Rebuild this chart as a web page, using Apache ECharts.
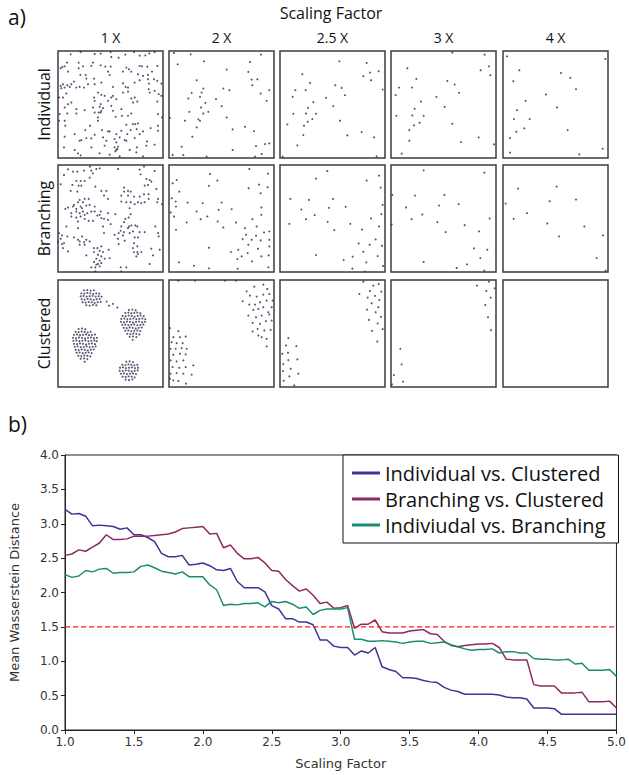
<!DOCTYPE html>
<html><head><meta charset="utf-8">
<script src="https://cdn.jsdelivr.net/npm/echarts@6/dist/echarts.min.js"></script>
<style>html,body{margin:0;padding:0;background:#fff}#c{width:629px;height:775px}</style>
</head><body><div id="c"></div>
<script>
// ---------- Panel a) labels ----------
const columnLabels = ['1 X', '2 X', '2.5 X', '3 X', '4 X'];
const rowLabels = ['Individual', 'Branching', 'Clustered'];

// ---------- Panel a) cell positions (image coords, y downward) ----------
const indiv1 = [[38,10],[68,3],[110,9],[128,8],[158,3],[160,18],[182,20],[202,11],[228,3],[245,14],[262,13],[274,7],[290,3],
[27,35],[13,48],[20,46],[8,52],[30,62],[62,35],[75,46],[62,52],[100,45],[105,35],[128,43],[142,47],[158,47],[150,62],[205,50],[213,55],[245,45],[252,46],[268,47],[298,45],[220,62],[195,62],[240,70],[255,75],[270,72],[282,62],
[67,72],[85,83],[83,72],[108,83],[130,95],[155,72],[48,92],[40,100],[28,103],[15,100],[8,105],[20,110],[10,112],[35,108],[55,110],[65,108],[78,110],[90,100],[110,100],[165,108],[195,97],[203,108],[210,110],[230,95],[245,88],[270,85],[273,98],[288,85],[298,90],[310,98],
[25,128],[15,140],[3,140],[120,125],[108,140],[130,132],[140,135],[160,140],[165,135],[175,145],[195,125],[210,122],[230,140],[220,143],[272,115],[275,125],[290,120],[302,130],[310,135],[298,152],[238,152],[225,155],[40,155],[30,160],[110,150],[128,160],[150,150],
[20,170],[55,175],[80,178],[105,170],[125,168],[135,172],[130,180],[128,185],[160,165],[165,180],[190,175],[110,185],[122,185],[28,188],[55,188],[5,190],[120,200],[192,195],[210,195],[220,188],[300,190],[312,200],
[20,210],[3,210],[120,210],[173,198],[205,222],[225,220],[232,220],[240,218],[278,232],[300,225],[22,225],[96,225],[82,238],[132,238],[150,242],[155,242],[190,240],[175,250],[218,238],[236,235],[208,250],[245,250],[255,242],[300,240],[50,250],[110,252],[20,258],[85,262],[100,263],[170,265],[185,260],[200,268],
[65,270],[70,268],[135,260],[145,270],[175,275],[230,262],[205,270],[267,272],[290,282],[265,285],[18,290],[50,298],[100,290],[140,285],[170,290],[178,295],[175,298],[172,302],[180,288],[215,298],[237,290],[235,305],[60,308],[68,314],[125,308],[155,312],[185,317],[255,317]];
const indiv2 = [[15,6],[65,10],[105,31],[26,40],[173,56],[243,33],[276,11],[238,63],[248,86],[265,85],[83,88],[250,103],[103,113],[163,113],[68,126],[181,118],[58,143],[98,125],[93,138],[141,145],[301,118],[275,128],[293,150],[109,156],[158,166],[96,170],[118,183],[61,183],[103,188],[88,206],[173,200],[93,210],[48,210],[3,201],[83,230],[228,228],[191,236],[255,241],[70,258],[38,288],[261,286],[191,298],[288,280],[301,278],[11,313],[43,313],[113,318],[278,310],[258,318]];
const indiv25 = [[178,31],[260,36],[67,70],[250,76],[270,65],[296,61],[273,88],[90,96],[166,103],[185,111],[46,118],[77,118],[308,116],[195,133],[38,138],[138,141],[100,154],[84,171],[160,166],[40,189],[78,188],[108,189],[97,205],[83,213],[22,221],[72,225],[180,210],[70,253],[245,244],[202,254],[282,260],[52,284],[290,317],[8,318]];
const indiv3 = [[184,5],[281,11],[269,58],[294,46],[298,73],[49,52],[76,84],[169,90],[191,101],[24,110],[63,110],[204,126],[14,133],[136,138],[90,152],[71,174],[161,168],[16,195],[64,194],[98,195],[86,216],[69,224],[184,219],[55,238],[55,270],[210,274],[263,260],[309,281],[32,309]];
const indiv4 = [[12,16],[307,24],[49,58],[31,91],[174,66],[202,81],[219,115],[129,131],[68,150],[42,178],[162,170],[33,205],[80,205],[40,243],[64,233],[21,262],[194,238],[21,306],[229,311],[299,294]];

const branch1 = [[30,13],[45,20],[58,20],[18,30],[78,17],[96,5],[115,12],[125,10],[100,17],[95,38],[105,25],[180,12],[245,14],[258,5],[290,18],[248,28],
[55,48],[68,48],[80,48],[62,62],[70,62],[43,60],[8,58],[38,78],[58,80],[112,65],[130,78],[145,78],[198,68],[210,78],[218,80],[198,80],[265,42],[275,45],[270,60],[295,72],[280,50],[260,62],
[138,92],[150,102],[190,92],[210,92],[228,95],[245,95],[258,88],[272,88],[272,102],[300,102],[298,112],[312,118],[260,112],[250,115],[240,112],[230,118],[218,112],[205,112],[190,110],[65,105],[80,102],[92,102],[75,112],[60,112],[48,120],[45,125],[30,128],[22,132],[55,132],[68,125],[72,130],[85,122],[95,120],[110,125],
[40,145],[55,140],[65,145],[75,140],[80,150],[88,145],[100,140],[110,140],[128,140],[125,150],[150,145],[172,148],[215,130],[218,148],[202,162],[212,158],[40,155],[55,158],[68,155],[80,162],[92,168],[105,168],[118,152],[130,160],[138,162],[60,170],[150,165],[158,178],[198,172],[190,185],[213,185],[220,182],[232,182],[238,185],[210,190],
[25,185],[60,190],[135,185],[292,185],[3,205],[12,212],[8,222],[28,215],[48,218],[72,215],[60,225],[65,230],[78,232],[85,225],[95,230],[138,205],[170,210],[182,205],[188,198],[198,202],[195,212],[215,205],[225,200],[230,218],[245,202],[260,202],[240,218],[300,205],[302,215],[180,222],[200,228],[228,235],[18,235],[12,238],[0,232],[65,240],[80,240],[182,238],
[108,250],[118,250],[130,245],[108,262],[125,258],[152,255],[15,250],[30,260],[85,272],[120,270],[130,275],[135,262],[225,250],[238,245],[228,262],[238,262],[250,262],[280,252],[305,255],[285,272],[235,275],[240,268],[115,282],[140,282],[155,280],[125,288],[130,295],[108,292],[120,298],[115,300],[275,298],[100,308],[112,308],[125,305],[188,308],[205,308],[112,320],[190,320]];
const branch2 = [[23,45],[11,55],[31,80],[8,100],[123,27],[120,63],[145,47],[241,12],[297,26],[270,59],[239,70],[275,85],[296,67],[20,110],[21,125],[5,143],[15,155],[56,113],[101,115],[158,113],[188,133],[83,140],[149,135],[95,163],[115,155],[146,170],[21,195],[53,173],[163,188],[201,173],[228,190],[250,163],[277,150],[277,128],[263,185],[285,203],[301,200],[231,210],[221,223],[261,213],[248,225],[275,227],[301,225],[238,240],[208,255],[186,262],[267,252],[236,265],[301,245],[218,275],[205,283],[249,290],[277,275],[299,272],[120,249],[30,293],[75,303],[120,311],[206,312],[298,308]];
const branch25 = [[142,18],[108,41],[260,47],[297,32],[302,68],[31,102],[87,105],[159,102],[64,134],[147,129],[197,126],[104,151],[78,163],[308,120],[304,148],[273,161],[28,177],[143,171],[211,177],[297,185],[163,196],[246,194],[287,224],[236,236],[269,240],[306,243],[250,261],[293,274],[108,271],[191,286],[218,276],[259,293],[217,312],[255,321],[309,304]];
const branch3 = [[98,16],[280,23],[4,90],[72,92],[160,90],[45,128],[144,122],[203,118],[94,149],[62,163],[139,172],[296,161],[2,179],[164,202],[221,181],[264,200],[249,251],[289,255],[268,280],[98,292],[197,310],[228,299],[280,318]];
const branch4 = [[45,71],[161,65],[8,116],[140,109],[219,104],[72,145],[32,162],[133,176],[168,215],[244,185],[300,212],[281,280],[308,318]];

const clust1 = [
// upper-left cluster and tail
[78,31],[88,30],[98,32],[108,31],
[70,40],[79,41],[88,39],[97,40],[106,42],[115,40],[124,41],
[68,49],[77,48],[86,50],[95,49],[104,48],[113,50],[122,49],[131,50],
[71,58],[80,59],[89,57],[98,58],[107,60],[116,58],[125,57],
[74,67],[83,68],[92,66],[101,67],[110,69],[119,67],[128,66],
[85,76],[95,77],[105,75],[115,76],
[146,65],[153,77],[165,72],[178,83],
// right cluster
[213,90],[223,89],[233,91],
[202,99],[211,98],[220,100],[229,99],[238,98],[247,100],
[194,108],[203,109],[212,107],[221,108],[230,110],[239,108],[248,107],[257,109],
[190,117],[199,116],[208,118],[217,117],[226,116],[235,118],[244,117],[253,116],[262,118],
[189,126],[198,127],[207,125],[216,126],[225,128],[234,126],[243,125],[252,127],[261,126],
[193,135],[202,134],[211,136],[220,135],[229,134],[238,136],[247,135],[256,134],
[197,144],[206,145],[215,143],[224,144],[233,146],[242,144],[251,143],
[202,153],[211,152],[220,154],[229,153],[238,152],[247,154],
[208,162],[217,163],[226,161],[235,162],[244,164],
[215,171],[225,170],[235,172],[224,180],
// left cluster
[62,147],[72,146],[82,148],
[53,156],[62,157],[71,155],[80,156],[89,158],[98,156],
[48,165],[57,164],[66,166],[75,165],[84,164],[93,166],[102,165],[111,164],
[45,174],[54,175],[63,173],[72,174],[81,176],[90,174],[99,173],[108,175],[117,174],
[46,183],[55,182],[64,184],[73,183],[82,182],[91,184],[100,183],[109,182],[116,184],
[48,192],[57,193],[66,191],[75,192],[84,194],[93,192],[102,191],[111,193],
[50,201],[59,200],[68,202],[77,201],[86,200],[95,202],[104,201],[113,200],
[53,210],[62,211],[71,209],[80,210],[89,212],[98,210],[107,209],
[56,219],[65,218],[74,220],[83,219],[92,218],[101,220],
[61,228],[70,229],[79,227],[88,228],[97,230],
[68,237],[78,236],[88,238],[80,246],
// bottom cluster
[205,246],[215,245],[225,247],
[193,255],[202,256],[211,254],[220,255],[229,257],[238,255],
[186,264],[195,263],[204,265],[213,264],[222,263],[231,265],[240,264],
[185,273],[194,274],[203,272],[212,273],[221,275],[230,273],[239,272],
[189,282],[198,281],[207,283],[216,282],[225,281],[234,283],
[194,291],[203,292],[212,290],[221,291],[230,293],
[203,300],[213,301],[223,299]];
const clust2 = [[28,2],[78,2],[168,2],[201,2],
[233,34],[256,20],[283,14],[295,27],[243,47],[263,50],[283,44],[301,42],[221,64],[241,74],[258,74],[273,67],[293,62],[308,82],[253,90],[268,87],[283,82],[298,97],[238,107],[261,112],[278,107],[301,104],[251,129],[273,132],[291,124],[305,150],[266,147],[286,152],[251,155],[268,167],[293,177],[278,172],[293,200],[308,122],[311,62],
[3,145],[28,154],[13,172],[33,172],[50,170],[8,187],[23,190],[41,190],[5,207],[20,207],[38,205],[53,207],[13,225],[33,222],[50,224],[5,242],[23,245],[43,242],[73,257],[11,262],[31,264],[50,262],[5,282],[23,280],[43,282],[68,285],[13,302],[28,304],[3,297],[51,312]];
const clust25 = [[250,5],[280,17],[296,12],[238,42],[263,53],[270,33],[285,48],[304,35],[275,70],[298,60],[261,89],[287,97],[295,82],[303,111],[267,120],[293,131],[276,153],[308,148],[292,185],
[25,175],[18,197],[49,199],[7,222],[24,219],[10,253],[25,241],[52,239],[32,267],[9,274],[55,282],[28,290],[11,303],[43,317],[19,323]];
const clust3 = [[258,17],[294,5],[286,33],[311,25],[299,53],[283,75],[291,112],[300,151],[28,207],[32,254],[9,286],[36,306],[3,314]];
const clust4 = [];

const panelData = [
  [indiv1, indiv2, indiv25, indiv3, indiv4],
  [branch1, branch2, branch25, branch3, branch4],
  [clust1, clust2, clust25, clust3, clust4]
];

// ---------- Panel b) data ----------
const scalingFactor = [1.00,1.05,1.10,1.15,1.20,1.25,1.30,1.35,1.40,1.45,1.50,1.55,1.60,1.65,1.70,1.75,1.80,1.85,1.90,1.95,
2.00,2.05,2.10,2.15,2.20,2.25,2.30,2.35,2.40,2.45,2.50,2.55,2.60,2.65,2.70,2.75,2.80,2.85,2.90,2.95,
3.00,3.05,3.10,3.15,3.20,3.25,3.30,3.35,3.40,3.45,3.50,3.55,3.60,3.65,3.70,3.75,3.80,3.85,3.90,3.95,
4.00,4.05,4.10,4.15,4.20,4.25,4.30,4.35,4.40,4.45,4.50,4.55,4.60,4.65,4.70,4.75,4.80,4.85,4.90,4.95,5.00];
const indivVsClustered = [3.21,3.14,3.15,3.11,2.97,2.98,2.97,2.96,2.92,2.94,2.84,2.84,2.80,2.74,2.57,2.52,2.52,2.54,2.40,2.41,
2.43,2.39,2.33,2.32,2.35,2.16,2.07,2.07,2.07,2.01,1.81,1.76,1.62,1.62,1.57,1.57,1.53,1.31,1.31,1.22,
1.20,1.20,1.09,1.15,1.12,1.20,0.92,0.88,0.85,0.76,0.76,0.75,0.72,0.70,0.69,0.62,0.58,0.56,0.52,0.52,
0.52,0.52,0.52,0.51,0.48,0.47,0.47,0.45,0.32,0.32,0.32,0.31,0.23,0.23,0.23,0.23,0.23,0.23,0.23,0.23,0.23];
const branchVsClustered = [2.54,2.56,2.62,2.60,2.66,2.72,2.84,2.77,2.77,2.78,2.82,2.82,2.82,2.83,2.84,2.85,2.88,2.93,2.94,2.95,
2.96,2.85,2.86,2.65,2.69,2.57,2.49,2.49,2.51,2.43,2.32,2.31,2.19,2.10,2.02,2.05,1.96,1.84,1.86,1.77,
1.78,1.81,1.48,1.54,1.54,1.60,1.43,1.41,1.41,1.41,1.44,1.45,1.46,1.40,1.39,1.29,1.23,1.21,1.23,1.24,
1.25,1.25,1.26,1.20,1.03,1.02,1.02,1.02,0.66,0.64,0.64,0.64,0.54,0.54,0.54,0.55,0.41,0.41,0.41,0.42,0.32];
const indivVsBranch = [2.26,2.22,2.24,2.32,2.30,2.34,2.35,2.28,2.29,2.29,2.30,2.38,2.40,2.36,2.31,2.29,2.27,2.30,2.23,2.23,
2.23,2.11,2.04,1.81,1.83,1.82,1.84,1.84,1.85,1.79,1.87,1.85,1.87,1.83,1.77,1.79,1.68,1.74,1.76,1.76,
1.76,1.78,1.32,1.32,1.29,1.29,1.30,1.29,1.28,1.26,1.28,1.29,1.29,1.26,1.27,1.28,1.24,1.21,1.18,1.16,
1.17,1.17,1.18,1.12,1.14,1.14,1.12,1.12,1.04,1.03,1.03,1.02,1.02,1.03,0.96,0.97,0.87,0.87,0.87,0.88,0.78];
const seriesNames = ['Individual vs. Clustered', 'Branching vs. Clustered', 'Indiviudal vs. Branching'];
const thresholdX = [1.0, 5.0];
const thresholdY = [1.5, 1.5];
const xTicks = [1.0, 5.0, 0.5];   // min, max, step
const yTicks = [0.0, 4.0, 0.5];

// ---------- build ----------
const chart = echarts.init(document.getElementById('c'), null, {renderer: 'svg'});
const colLeft = [58, 169, 280, 391, 503];
const rowTop = [51, 165, 280];
const PW = 105, PH = 107;
const grids = [], xAxes = [], yAxes = [], series = [], graphics = [];
const humanist = '"Open Sans", "Noto Sans", sans-serif';

let gi = 0;
for (let r = 0; r < 3; r++) {
  for (let c = 0; c < 5; c++) {
    grids.push({left: colLeft[c], top: rowTop[r], width: PW, height: PH, show: true,
      borderColor: '#3c3c3c', borderWidth: 1.5, backgroundColor: '#fff', containLabel: false});
    xAxes.push({gridIndex: gi, type: 'value', min: 0, max: 315, show: false});
    yAxes.push({gridIndex: gi, type: 'value', min: 0, max: 322, inverse: true, show: false});
    series.push({type: 'scatter', xAxisIndex: gi, yAxisIndex: gi, data: panelData[r][c],
      symbolSize: 2.1, itemStyle: {color: '#2e2e52'}, silent: true, animation: false});
    gi++;
  }
}
// line chart grid
grids.push({left: 57, top: 455, width: 563, height: 275, show: true, borderColor: '#222', borderWidth: 1, containLabel: false});
const axisLbl = {fontFamily: '"DejaVu Sans", sans-serif', fontSize: 12, color: '#333', margin: 6};
xAxes.push({gridIndex: gi, type: 'value', min: xTicks[0], max: xTicks[1], interval: xTicks[2],
  name: 'Scaling Factor', nameLocation: 'middle', nameGap: 27,
  nameTextStyle: {fontFamily: '"DejaVu Sans", sans-serif', fontSize: 13, color: '#333'},
  axisLine: {show: true, lineStyle: {color: '#222', width: 1}},
  axisTick: {show: true, inside: false, length: 4, lineStyle: {color: '#222'}},
  axisLabel: Object.assign({formatter: v => v.toFixed(1)}, axisLbl), splitLine: {show: false}});
yAxes.push({gridIndex: gi, type: 'value', min: yTicks[0], max: yTicks[1], interval: yTicks[2],
  name: 'Mean Wasserstein Distance', nameLocation: 'middle', nameGap: 44,
  nameTextStyle: {fontFamily: '"DejaVu Sans", sans-serif', fontSize: 13, color: '#333'},
  axisLine: {show: true, lineStyle: {color: '#222', width: 1}},
  axisTick: {show: true, inside: false, length: 4, lineStyle: {color: '#222'}},
  axisLabel: Object.assign({formatter: v => v.toFixed(1)}, axisLbl), splitLine: {show: false}});
const lineColors = ['#3c3496', '#8e2a62', '#1a8c72'];
const lineData = [indivVsClustered, branchVsClustered, indivVsBranch];
lineData.forEach((arr, i) => {
  series.push({type: 'line', name: seriesNames[i], xAxisIndex: gi, yAxisIndex: gi,
    data: scalingFactor.map((x, k) => [x, arr[k]]), showSymbol: false, symbol: 'none',
    lineStyle: {color: lineColors[i], width: 1.5}, itemStyle: {color: lineColors[i]}, animation: false, z: 3});
});
series.push({type: 'line', name: 'threshold', xAxisIndex: gi, yAxisIndex: gi,
  data: thresholdX.map((x, k) => [x, thresholdY[k]]), showSymbol: false, symbol: 'none', silent: true,
  lineStyle: {color: '#ff1a1a', width: 1.2, type: [5, 3]}, itemStyle: {color: '#ff1a1a'}, animation: false, z: 4});

// texts
graphics.push({type: 'text', x: 8, y: 17, style: {text: 'a)', font: '21px ' + humanist, fill: '#111', textVerticalAlign: 'middle'}});
graphics.push({type: 'text', x: 8, y: 424, style: {text: 'b)', font: '21px ' + humanist, fill: '#111', textVerticalAlign: 'middle'}});
graphics.push({type: 'text', x: 331, y: 13, style: {text: 'Scaling Factor', font: '16px ' + humanist, fill: '#111', textAlign: 'center', textVerticalAlign: 'middle'}});
columnLabels.forEach((t, c) => graphics.push({type: 'text', x: colLeft[c] + PW / 2, y: 37,
  style: {text: t, font: '14px ' + humanist, fill: '#111', textAlign: 'center', textVerticalAlign: 'middle'}}));
rowLabels.forEach((t, r) => graphics.push({type: 'text', x: 44, y: rowTop[r] + PH / 2, rotation: Math.PI / 2,
  style: {text: t, font: '16px ' + humanist, fill: '#111', textAlign: 'center', textVerticalAlign: 'middle'}}));

chart.setOption({
  animation: false,
  backgroundColor: '#fff',
  grid: grids, xAxis: xAxes, yAxis: yAxes, series: series,
  legend: {data: seriesNames, left: 343, top: 455, orient: 'vertical', backgroundColor: '#fff',
    borderColor: '#111', borderWidth: 1, borderRadius: 0, padding: [8, 13, 8, 9], itemGap: 6,
    itemWidth: 28, itemHeight: 3, icon: 'rect', selectedMode: false,
    textStyle: {fontFamily: humanist, fontSize: 20, color: '#111', lineHeight: 20}},
  graphic: graphics
});
</script></body></html>
